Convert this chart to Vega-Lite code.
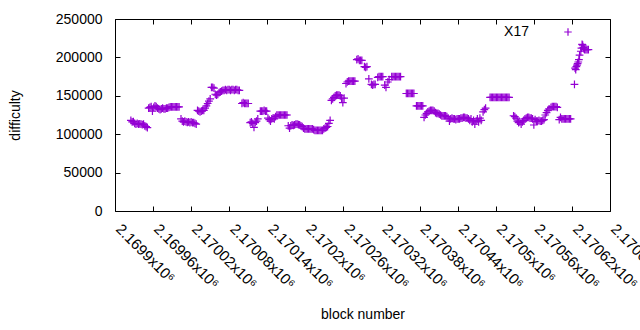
{
  "$schema": "https://vega.github.io/schema/vega-lite/v6.json",
  "autosize": {"type": "none"},
  "padding": {"left": 115, "top": 19, "right": 30, "bottom": 119},
  "width": 495,
  "height": 192,
  "background": "white",
  "data": {"values": [
    {"b":2169925,"d":118000},{"b":2169927,"d":116000},{"b":2169929,"d":116500},{"b":2169931,"d":114000},{"b":2169933,"d":113000},{"b":2169935,"d":114000},{"b":2169937,"d":113000},{"b":2169939,"d":113500},{"b":2169941,"d":113000},{"b":2169943,"d":112500},{"b":2169945,"d":113000},{"b":2169947,"d":111000},{"b":2169949,"d":110000},{"b":2169951,"d":108500},
    {"b":2169953,"d":134000},{"b":2169955,"d":135000},{"b":2169957,"d":136000},{"b":2169959,"d":130000},{"b":2169961,"d":135000},{"b":2169963,"d":137000},{"b":2169965,"d":136000},{"b":2169967,"d":134000},{"b":2169969,"d":133000},{"b":2169971,"d":132000},{"b":2169973,"d":133000},{"b":2169975,"d":134000},{"b":2169977,"d":133000},{"b":2169979,"d":133000},{"b":2169981,"d":134000},{"b":2169983,"d":134000},{"b":2169985,"d":135000},{"b":2169987,"d":135500},{"b":2169989,"d":135500},{"b":2169991,"d":135500},{"b":2169993,"d":135500},{"b":2169995,"d":135500},{"b":2169997,"d":135500},{"b":2169999,"d":135500},{"b":2170001,"d":135500},
    {"b":2170004,"d":120000},{"b":2170006,"d":117000},{"b":2170008,"d":116000},{"b":2170010,"d":117000},{"b":2170012,"d":116000},{"b":2170014,"d":115500},{"b":2170016,"d":116000},{"b":2170018,"d":115000},{"b":2170020,"d":116000},{"b":2170022,"d":115000},{"b":2170024,"d":115000},{"b":2170026,"d":114000},{"b":2170028,"d":113000},
    {"b":2170030,"d":131000},{"b":2170032,"d":130000},{"b":2170034,"d":129000},{"b":2170036,"d":130000},{"b":2170038,"d":131000},{"b":2170040,"d":131000},{"b":2170042,"d":134000},{"b":2170044,"d":137000},{"b":2170046,"d":140000},{"b":2170048,"d":143000},{"b":2170050,"d":146000},{"b":2170052,"d":161000},{"b":2170054,"d":161000},{"b":2170056,"d":160000},{"b":2170058,"d":152000},{"b":2170060,"d":151000},{"b":2170062,"d":152000},{"b":2170064,"d":154000},{"b":2170066,"d":155000},{"b":2170068,"d":156000},{"b":2170070,"d":157000},{"b":2170072,"d":157000},{"b":2170074,"d":158000},{"b":2170076,"d":157000},{"b":2170078,"d":158000},{"b":2170080,"d":158000},{"b":2170082,"d":157000},{"b":2170084,"d":158000},{"b":2170086,"d":158000},{"b":2170088,"d":157000},{"b":2170090,"d":158000},{"b":2170092,"d":158000},{"b":2170094,"d":157000},{"b":2170096,"d":157000},
    {"b":2170100,"d":140000},{"b":2170102,"d":141000},{"b":2170104,"d":140000},{"b":2170106,"d":140000},{"b":2170108,"d":140000},{"b":2170110,"d":140000},
    {"b":2170113,"d":115000},{"b":2170115,"d":116000},{"b":2170117,"d":114000},{"b":2170119,"d":109000},{"b":2170121,"d":115000},{"b":2170123,"d":117000},{"b":2170125,"d":120000},
    {"b":2170129,"d":130000},{"b":2170131,"d":130000},{"b":2170133,"d":130000},{"b":2170135,"d":131000},{"b":2170137,"d":130000},{"b":2170139,"d":130000},
    {"b":2170141,"d":121000},{"b":2170143,"d":119000},{"b":2170145,"d":117000},{"b":2170147,"d":120000},{"b":2170149,"d":121000},{"b":2170151,"d":120000},
    {"b":2170153,"d":123000},{"b":2170155,"d":125000},{"b":2170157,"d":125000},{"b":2170159,"d":125000},{"b":2170161,"d":125000},{"b":2170163,"d":125000},{"b":2170165,"d":125000},{"b":2170167,"d":125000},{"b":2170169,"d":125000},{"b":2170171,"d":125000},
    {"b":2170173,"d":111000},{"b":2170175,"d":108000},{"b":2170177,"d":111000},{"b":2170179,"d":112000},{"b":2170181,"d":111500},{"b":2170183,"d":112000},{"b":2170185,"d":113000},{"b":2170187,"d":113000},{"b":2170189,"d":112500},{"b":2170191,"d":112000},{"b":2170193,"d":111000},
    {"b":2170195,"d":110000},{"b":2170197,"d":108000},{"b":2170199,"d":107000},{"b":2170201,"d":107000},{"b":2170203,"d":107000},{"b":2170205,"d":107000},{"b":2170207,"d":107000},{"b":2170209,"d":107000},{"b":2170211,"d":107000},
    {"b":2170213,"d":106000},{"b":2170215,"d":105000},{"b":2170217,"d":105000},{"b":2170219,"d":105000},{"b":2170221,"d":105000},{"b":2170223,"d":105000},{"b":2170225,"d":105000},{"b":2170227,"d":105000},
    {"b":2170229,"d":107000},{"b":2170231,"d":108000},{"b":2170233,"d":109000},{"b":2170235,"d":110000},{"b":2170237,"d":114000},{"b":2170239,"d":118000},
    {"b":2170241,"d":144000},{"b":2170243,"d":146000},{"b":2170245,"d":148000},{"b":2170247,"d":150000},{"b":2170249,"d":151000},{"b":2170251,"d":151000},{"b":2170253,"d":151000},{"b":2170255,"d":150000},{"b":2170257,"d":147000},{"b":2170259,"d":141000},{"b":2170261,"d":147000},
    {"b":2170264,"d":166000},{"b":2170266,"d":168000},{"b":2170268,"d":169000},{"b":2170270,"d":169000},{"b":2170272,"d":169000},{"b":2170274,"d":169000},{"b":2170276,"d":169000},{"b":2170278,"d":169000},
    {"b":2170281,"d":197000},{"b":2170283,"d":198000},{"b":2170285,"d":196000},{"b":2170287,"d":196000},{"b":2170289,"d":196000},
    {"b":2170293,"d":188000},{"b":2170295,"d":187000},{"b":2170297,"d":188000},
    {"b":2170300,"d":172000},
    {"b":2170304,"d":165000},{"b":2170306,"d":164000},{"b":2170308,"d":165000},{"b":2170310,"d":165000},
    {"b":2170314,"d":174000},{"b":2170316,"d":175000},{"b":2170318,"d":175000},{"b":2170320,"d":175000},{"b":2170322,"d":175000},
    {"b":2170325,"d":164000},{"b":2170327,"d":161000},
    {"b":2170330,"d":168000},{"b":2170332,"d":171000},
    {"b":2170336,"d":175000},{"b":2170338,"d":175000},{"b":2170340,"d":175000},{"b":2170342,"d":175000},{"b":2170344,"d":175000},{"b":2170346,"d":175000},{"b":2170348,"d":175000},{"b":2170350,"d":175000},
    {"b":2170359,"d":153000},{"b":2170361,"d":153000},{"b":2170363,"d":153000},{"b":2170365,"d":153000},{"b":2170367,"d":153000},{"b":2170369,"d":153000},{"b":2170371,"d":153000},
    {"b":2170375,"d":137000},{"b":2170377,"d":137000},{"b":2170379,"d":137000},{"b":2170381,"d":137000},{"b":2170383,"d":137000},{"b":2170385,"d":137000},
    {"b":2170387,"d":122000},{"b":2170389,"d":125000},{"b":2170391,"d":127000},{"b":2170393,"d":129000},{"b":2170395,"d":130000},{"b":2170397,"d":131000},{"b":2170399,"d":131000},{"b":2170401,"d":131000},{"b":2170403,"d":130000},{"b":2170405,"d":128000},{"b":2170407,"d":127000},{"b":2170409,"d":127000},{"b":2170411,"d":126000},{"b":2170413,"d":125000},{"b":2170415,"d":124000},{"b":2170417,"d":124000},{"b":2170419,"d":124000},{"b":2170421,"d":124000},{"b":2170423,"d":123000},
    {"b":2170425,"d":121000},{"b":2170427,"d":117000},{"b":2170429,"d":120000},{"b":2170431,"d":121000},{"b":2170433,"d":120000},{"b":2170435,"d":120000},{"b":2170437,"d":119000},{"b":2170439,"d":120000},{"b":2170441,"d":120000},{"b":2170443,"d":120000},{"b":2170445,"d":121000},{"b":2170447,"d":121000},{"b":2170449,"d":122000},{"b":2170451,"d":122000},{"b":2170453,"d":121000},{"b":2170455,"d":121000},{"b":2170457,"d":120000},{"b":2170459,"d":118000},
    {"b":2170461,"d":120000},{"b":2170463,"d":116000},{"b":2170465,"d":118000},{"b":2170467,"d":113000},{"b":2170469,"d":117000},{"b":2170471,"d":120000},{"b":2170473,"d":116000},{"b":2170475,"d":121000},{"b":2170477,"d":118000},
    {"b":2170480,"d":129000},{"b":2170482,"d":132000},{"b":2170484,"d":134000},
    {"b":2170491,"d":148000},{"b":2170493,"d":148000},{"b":2170495,"d":148000},{"b":2170497,"d":148000},{"b":2170499,"d":148000},{"b":2170501,"d":148000},{"b":2170503,"d":148000},{"b":2170505,"d":148000},{"b":2170507,"d":148000},{"b":2170509,"d":148000},{"b":2170511,"d":148000},{"b":2170513,"d":148000},{"b":2170515,"d":148000},{"b":2170517,"d":148000},{"b":2170519,"d":148000},{"b":2170521,"d":148000},
    {"b":2170528,"d":124000},{"b":2170530,"d":123000},{"b":2170532,"d":121000},
    {"b":2170534,"d":117000},{"b":2170536,"d":115000},{"b":2170538,"d":116000},{"b":2170540,"d":113000},{"b":2170542,"d":116000},{"b":2170544,"d":118000},
    {"b":2170546,"d":120000},{"b":2170548,"d":121000},{"b":2170550,"d":122000},{"b":2170552,"d":122000},{"b":2170554,"d":121000},{"b":2170556,"d":121000},{"b":2170558,"d":120000},
    {"b":2170560,"d":112000},
    {"b":2170562,"d":119000},{"b":2170564,"d":117000},{"b":2170566,"d":117000},{"b":2170568,"d":118000},{"b":2170570,"d":117000},{"b":2170572,"d":117000},{"b":2170574,"d":118000},{"b":2170576,"d":119000},
    {"b":2170578,"d":125000},{"b":2170580,"d":128000},{"b":2170582,"d":131000},{"b":2170584,"d":133000},
    {"b":2170587,"d":135000},{"b":2170589,"d":136000},{"b":2170591,"d":136000},{"b":2170593,"d":136000},{"b":2170595,"d":136000},{"b":2170597,"d":135000},
    {"b":2170600,"d":119000},{"b":2170602,"d":122000},{"b":2170604,"d":120000},{"b":2170606,"d":120000},{"b":2170608,"d":120000},{"b":2170610,"d":120000},{"b":2170612,"d":120000},{"b":2170614,"d":120000},{"b":2170616,"d":120000},{"b":2170618,"d":120000},
    {"b":2170624,"d":165000},
    {"b":2170625,"d":186000},{"b":2170626,"d":184000},{"b":2170627,"d":188000},{"b":2170628,"d":190000},{"b":2170629,"d":192000},{"b":2170630,"d":194000},{"b":2170631,"d":197000},{"b":2170632,"d":203000},{"b":2170634,"d":208000},{"b":2170635,"d":212000},{"b":2170636,"d":217000},{"b":2170637,"d":216000},{"b":2170638,"d":213000},{"b":2170639,"d":211000},{"b":2170640,"d":210000},{"b":2170642,"d":210000},{"b":2170644,"d":210000},{"b":2170646,"d":210000}
  ]},
  "layer": [
    {
      "mark": {"type": "point", "shape": "M-1,0H1M0,-1V1", "filled": false, "size": 60, "strokeWidth": 1.2, "opacity": 1},
      "encoding": {
        "x": {"field": "b", "type": "quantitative", "scale": {"domain": [2169900, 2170680], "nice": false, "zero": false},
          "axis": {"orient": "bottom", "values": [2169900,2169960,2170020,2170080,2170140,2170200,2170260,2170320,2170380,2170440,2170500,2170560,2170620,2170680],
            "labelExpr": "format(datum.value/1000000, '.6~f') + 'x10⁶'", "labelAngle": 45, "labelAlign": "left", "labelBaseline": "middle", "labelFontSize": 15, "labelOffset": 3,
            "tickSize": -5, "labelPadding": 20, "labelFlush": false, "labelOverlap": false, "labelBound": false, "title": "block number", "titlePadding": 16}},
        "y": {"field": "d", "type": "quantitative", "scale": {"domain": [0, 250000], "nice": false},
          "axis": {"orient": "left", "values": [0,50000,100000,150000,200000,250000], "format": "d", "tickSize": -5, "labelPadding": 18, "title": "difficulty", "titlePadding": 33}},
        "color": {"datum": "X17", "type": "nominal", "scale": {"range": ["#9400d3"]},
          "legend": {"orient": "none", "legendX": 446, "legendY": 6, "title": null, "symbolType": "M-1,0H1M0,-1V1", "symbolSize": 56, "symbolStrokeWidth": 1.2, "symbolFillColor": "transparent", "symbolStrokeColor": "#9400d3", "labelOffset": -46, "labelAlign": "right", "labelFontSize": 14, "labelFont": "Liberation Sans", "labelColor": "#000", "padding": 0}}
      }
    },
    {
      "mark": {"type": "point", "opacity": 0},
      "encoding": {
        "x": {"field": "b", "type": "quantitative",
          "axis": {"orient": "top", "values": [2169900,2169960,2170020,2170080,2170140,2170200,2170260,2170320,2170380,2170440,2170500,2170560,2170620,2170680], "labels": false, "tickSize": -5, "title": null}},
        "y": {"field": "d", "type": "quantitative",
          "axis": {"orient": "right", "values": [0,50000,100000,150000,200000,250000], "labels": false, "tickSize": -5, "title": null}}
      }
    }
  ],
  "resolve": {"axis": {"x": "independent", "y": "independent"}},
  "config": {
    "font": "Liberation Sans",
    "view": {"stroke": "#000", "strokeWidth": 1},
    "axis": {"labelFont": "Liberation Sans", "labelFontSize": 14, "labelColor": "#000", "titleFont": "Liberation Sans", "titleFontSize": 14, "titleFontWeight": "normal", "titleColor": "#000", "tickColor": "#000", "tickWidth": 1, "grid": false, "domain": false}
  }
}
